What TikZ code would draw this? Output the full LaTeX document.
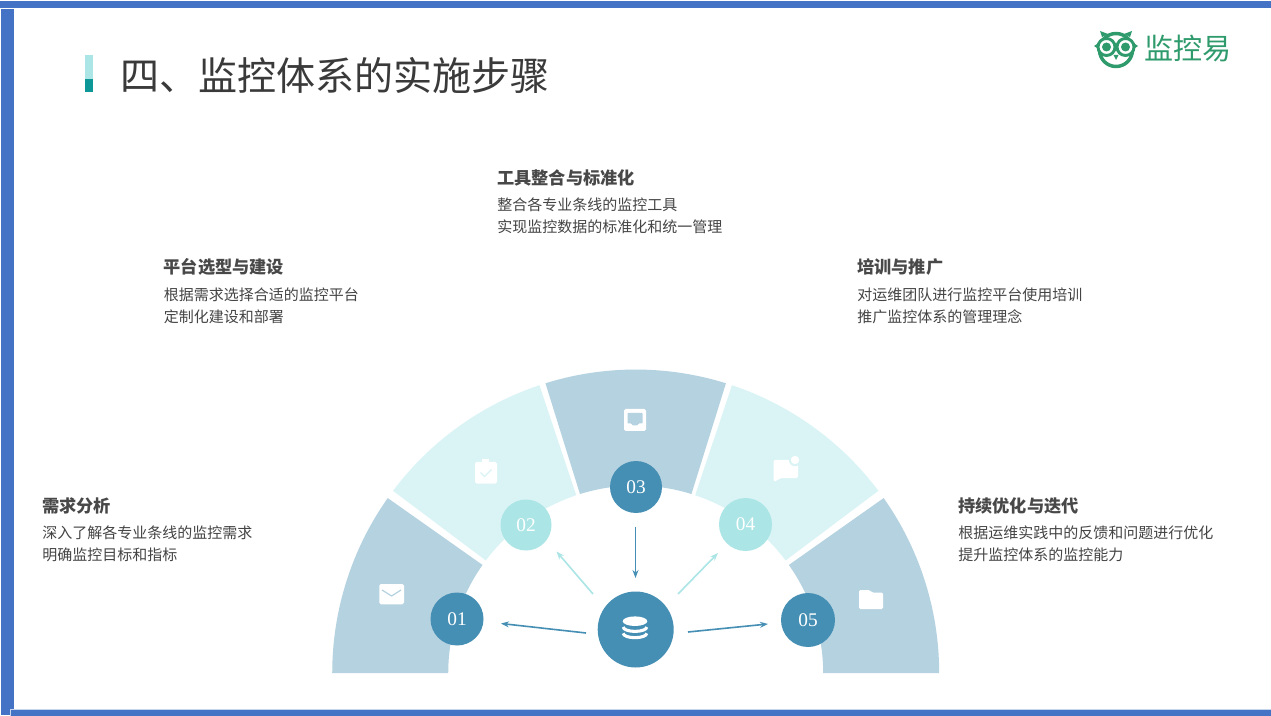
\documentclass[tikz,border=0pt]{standalone}
\usepackage{fontspec}
\setmainfont{Noto Sans CJK SC}
\newfontfamily\numfont{Liberation Serif}
\usetikzlibrary{arrows.meta,calc}
\definecolor{band}{HTML}{4472C4}
\definecolor{segdark}{HTML}{B5D2E0}
\definecolor{seglight}{HTML}{DAF4F6}
\definecolor{circdark}{HTML}{468FB4}
\definecolor{circlight}{HTML}{ABE5E6}
\definecolor{teal}{HTML}{0E9797}
\definecolor{logogreen}{HTML}{2F9B6C}
\definecolor{titlegray}{HTML}{3A3A3A}
\definecolor{headgray}{HTML}{484848}
\definecolor{bodygray}{HTML}{444444}
\newcommand{\ringseg}[3]{\fill[#1] ($(635.7,-673)+(#2:227.6pt)$) arc[start angle=#2,end angle=#3,radius=227.6pt] -- ($(635.7,-673)+(#3:140.6pt)$) arc[start angle=#3,end angle=#2,radius=140.6pt] -- cycle;}
\tikzset{
  x=0.75pt,y=0.75pt,
  headtext/.style={anchor=west,inner sep=0pt,text=headgray,font=\fontsize{12.9}{16}\selectfont\bfseries},
  bodytext/.style={anchor=west,inner sep=0pt,align=left,text=bodygray,font=\fontsize{11.25}{16.5}\selectfont},
  numdark/.style={circle,fill=circdark,text=white,inner sep=0pt,font=\fontsize{14.5}{16}\selectfont\numfont},
  numlight/.style={circle,fill=circlight,text=white,inner sep=0pt,font=\fontsize{14.5}{16}\selectfont\numfont},
  darrow/.style={draw=circdark,line width=1.2pt,-{Stealth[length=6pt,width=4.5pt]}},
  larrow/.style={draw=circlight,line width=1.2pt,-{Stealth[length=6pt,width=4.5pt]}},
  iconfill/.style={fill=white,rounded corners=1.2pt},
}
\begin{document}
\begin{tikzpicture}
\useasboundingbox (0,-716) rectangle (1271,0);
\fill[white] (0,-716) rectangle (1271,0);
% frame
\fill[band] (0,-1) rectangle (1271,-8);
\fill[band] (1,-9) rectangle (14,-715);
\fill[white!70!band] (10,-708.5) rectangle (1271,-716);
\fill[band] (11,-709.5) rectangle (1271,-716);
% title
\fill[circlight] (85,-55) rectangle (93,-79);
\fill[teal] (85,-79) rectangle (93,-92);
\node[anchor=west,inner sep=0pt,text=titlegray,font=\fontsize{29.3}{34}\selectfont] (title) at (120,-76) {四、监控体系的实施步骤};
% logo
\begin{scope}[logogreen]
\draw[line width=2.6pt] (1116,-50) circle[radius=16.5];
\fill (1102,-37) -- (1100,-31) -- (1108,-34) -- cycle;
\fill (1130,-37) -- (1132,-31) -- (1124,-34) -- cycle;
\fill (1094,-46) -- (1100,-42) -- (1100,-50) -- cycle;
\fill (1138,-46) -- (1132,-42) -- (1132,-50) -- cycle;
\draw[line width=2.2pt,fill=white] (1106.5,-47) circle[radius=8.5];
\draw[line width=2.2pt,fill=white] (1125.5,-47) circle[radius=8.5];
\fill (1106.5,-47) circle[radius=4.5];
\fill (1125.5,-47) circle[radius=4.5];
\fill (1113.5,-55) -- (1118.5,-55) -- (1116,-60) -- cycle;
\end{scope}
\node[anchor=west,inner sep=0pt,text=logogreen,font=\fontsize{21.8}{24}\selectfont] (logo) at (1144.5,-49) {监控易};
% fan
\ringseg{segdark}{0}{35.2}
\ringseg{seglight}{36.9}{71.5}
\ringseg{segdark}{72.7}{107.3}
\ringseg{seglight}{108.5}{143.1}
\ringseg{segdark}{144.8}{180}
% icons
\fill[iconfill] (379.3,-584) rectangle (404,-604.3);
\draw[segdark,line width=0.9pt] (382,-590) -- (391.6,-596) -- (401,-590);
\fill[iconfill] (475,-462) rectangle (497,-483.5);
\fill[white] (482,-459.5) rectangle (489,-464);
\draw[seglight,line width=0.9pt] (480.5,-472.5) -- (484.5,-476.5) -- (491.5,-469.5);
\fill[iconfill] (624,-409) rectangle (646,-431);
\fill[segdark,rounded corners=0.5pt] (627.5,-413) -- (642.5,-413) -- (642.5,-423.5) -- (638.5,-423.5) -- (637.5,-425.5) -- (632.5,-425.5) -- (631.5,-423.5) -- (627.5,-423.5) -- cycle;
\fill[white,rounded corners=1pt] (773.5,-460) -- (798,-460) -- (798,-478) -- (781,-478) -- (774,-482) -- (773.5,-478) -- cycle;
\fill[seglight] (795,-460) circle[radius=6.2];
\fill[white] (795,-460) circle[radius=4.2];
\fill[white,rounded corners=1pt] (859,-590) -- (869.5,-590) -- (872,-592.5) -- (883,-592.5) -- (883,-609) -- (859,-609) -- cycle;
% circles
\node[numdark,minimum size=39.75pt] (n1) at (457,-619) {01};
\node[numlight,minimum size=38.25pt] (n2) at (526,-525) {02};
\node[numdark,minimum size=39pt] (n3) at (636,-487) {03};
\node[numlight,minimum size=39.75pt] (n4) at (745.5,-524.5) {04};
\node[numdark,minimum size=40.5pt] (n5) at (808,-620) {05};
\node[circle,fill=circdark,minimum size=57pt,inner sep=0pt] (hub) at (635.7,-629.5) {};
% database icon
\fill[white] (635,-621.2) ellipse[x radius=12.3,y radius=4.8];
\draw[white,line width=2.3pt] (623.2,-627) arc[start angle=180,end angle=360,x radius=11.8,y radius=4.4];
\draw[white,line width=2.3pt] (623.2,-633.3) arc[start angle=180,end angle=360,x radius=11.8,y radius=4.4];
% arrows
\coordinate (a1s) at (586,-633); \coordinate (a1e) at (501,-623.5);
\coordinate (a2s) at (593,-594); \coordinate (a2e) at (556.5,-551.5);
\coordinate (a3s) at (635.5,-527); \coordinate (a3e) at (635.5,-578);
\coordinate (a4s) at (678,-594); \coordinate (a4e) at (718,-553);
\coordinate (a5s) at (688,-632); \coordinate (a5e) at (768,-624);
\draw[darrow] (a1s) -- (a1e);
\draw[larrow] (a2s) -- (a2e);
\draw[darrow] (a3s) -- (a3e);
\draw[larrow] (a4s) -- (a4e);
\draw[darrow] (a5s) -- (a5e);
% labels
\node[headtext] (h3) at (497,-178) {工具整合与标准化};
\node[bodytext] (b3) at (497,-215.7) {整合各专业条线的监控工具\\实现监控数据的标准化和统一管理};
\node[headtext] (h2) at (163.5,-267) {平台选型与建设};
\node[bodytext] (b2) at (163.5,-305.7) {根据需求选择合适的监控平台\\定制化建设和部署};
\node[headtext] (h4) at (857,-267) {培训与推广};
\node[bodytext] (b4) at (857,-305.7) {对运维团队进行监控平台使用培训\\推广监控体系的管理理念};
\node[headtext] (h1) at (42,-506) {需求分析};
\node[bodytext] (b1) at (42,-543.5) {深入了解各专业条线的监控需求\\明确监控目标和指标};
\node[headtext] (h5) at (958,-506) {持续优化与迭代};
\node[bodytext] (b5) at (958,-543.5) {根据运维实践中的反馈和问题进行优化\\提升监控体系的监控能力};
\end{tikzpicture}
\end{document}
